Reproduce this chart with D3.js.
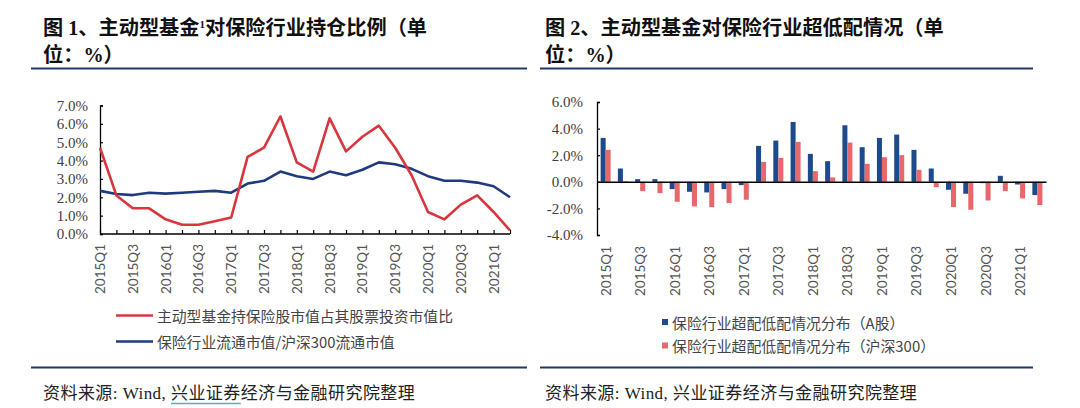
<!DOCTYPE html>
<html><head><meta charset="utf-8">
<script src="https://cdn.jsdelivr.net/npm/d3@7"></script>
<style>html,body{margin:0;padding:0;background:#fff;} svg{display:block}</style>
</head><body>
<svg id="c" width="1080" height="408"></svg>
<script>
const quarters = ["2015Q1","2015Q2","2015Q3","2015Q4","2016Q1","2016Q2","2016Q3","2016Q4",
  "2017Q1","2017Q2","2017Q3","2017Q4","2018Q1","2018Q2","2018Q3","2018Q4",
  "2019Q1","2019Q2","2019Q3","2019Q4","2020Q1","2020Q2","2020Q3","2020Q4","2021Q1","2021Q2"];
// Figure 1 series (%)
const holdingRatio = [4.7,2.1,1.4,1.4,0.8,0.5,0.5,0.7,0.9,4.2,4.7,6.4,3.9,3.4,6.3,4.5,5.3,5.9,4.7,3.2,1.2,0.8,1.6,2.1,1.2,0.2];
const marketCapRatio = [2.35,2.18,2.12,2.25,2.2,2.25,2.3,2.35,2.25,2.75,2.9,3.4,3.15,3.0,3.4,3.2,3.5,3.9,3.8,3.55,3.15,2.9,2.9,2.8,2.6,2.0];
// Figure 2 series (%)
const overweightA = [3.3,1.0,0.2,0.2,-0.55,-0.75,-0.8,-0.55,-0.25,2.7,3.1,4.5,2.1,1.55,4.25,2.6,3.3,3.55,2.4,1.0,-0.6,-0.9,-0.1,0.45,-0.2,-1.0];
const overweightHS300 = [2.4,0.05,-0.7,-0.85,-1.5,-1.85,-1.9,-1.6,-1.35,1.5,1.8,3.0,0.8,0.33,2.95,1.35,1.85,2.0,0.9,-0.4,-1.9,-2.1,-1.4,-0.7,-1.25,-1.75];
const leftYTicks = [0,1,2,3,4,5,6,7];
const rightYTicks = [-4,-2,0,2,4,6];
const xTickLabels = ["2015Q1","2015Q3","2016Q1","2016Q3","2017Q1","2017Q3","2018Q1","2018Q3","2019Q1","2019Q3","2020Q1","2020Q3","2021Q1"];
const leftLegend = ["主动型基金持保险股市值占其股票投资市值比","保险行业流通市值/沪深300流通市值"];
const rightLegend = ["保险行业超配低配情况分布（A股）","保险行业超配低配情况分布（沪深300）"];

const RED = "#d8363c", NAVY = "#1f3a7e", BAR_BLUE = "#1d4a8a", BAR_PINK = "#e8676a", RULE = "#1f3864";
const CJK = "'Liberation Serif','Noto Sans CJK SC',serif";
const CJKS = "'Noto Sans CJK SC',sans-serif";
const NUM = "'Liberation Serif',serif";
const XLAB = "Lato,'Liberation Sans',sans-serif";

const svg = d3.select("#c");
svg.append("rect").attr("width",1080).attr("height",408).attr("fill","#fff");

// ---------- Titles ----------
function title(x, num, rest1, sup) {
  const t = svg.append("text").attr("x",x).attr("y",35).attr("font-family",CJK)
    .attr("font-weight","bold").attr("font-size",20.2).attr("fill","#111");
  t.append("tspan").text("图 " + num + "、主动型基金");
  if (sup) { t.append("tspan").attr("font-size",11).attr("dy",-7).text("1");
             t.append("tspan").attr("dy",7).text(rest1); }
  else t.append("tspan").text(rest1);
  svg.append("text").attr("x",x).attr("y",62).attr("font-family",CJK)
    .attr("font-weight","bold").attr("font-size",20.2).attr("fill","#111").text("位：%）");
}
title(43, "1", "对保险行业持仓比例（单", true);
title(545, "2", "对保险行业超低配情况（单", false);

// rules
[[31,527],[540,1033]].forEach(([a,b])=>{
  svg.append("line").attr("x1",a).attr("x2",b).attr("y1",68.5).attr("y2",68.5).attr("stroke",RULE).attr("stroke-width",2);
  svg.append("line").attr("x1",a).attr("x2",b).attr("y1",367.5).attr("y2",367.5).attr("stroke",RULE).attr("stroke-width",2);
});

// footers
const footTxt = "资料来源: Wind, 兴业证券经济与金融研究院整理";
const feet = [43,545].map(x=> svg.append("text").attr("x",x).attr("y",399).attr("font-family",CJK).attr("font-size",17)
    .attr("letter-spacing",0.45).attr("fill","#222").text(footTxt));
{
  const node = feet[0].node();
  const idx = footTxt.indexOf("兴");
  const s = node.getStartPositionOfChar(idx).x;
  const e = node.getEndPositionOfChar(idx+3).x;
  svg.append("line").attr("x1",s).attr("x2",e).attr("y1",403.5).attr("y2",403.5).attr("stroke","#4fb3b8").attr("stroke-width",1.5);
}

// ---------- Left chart ----------
const xL = d3.scalePoint().domain(quarters).range([100,510]);
const yL = d3.scaleLinear().domain([0,7]).range([234,105.5]);

const gL = svg.append("g");
const yAxisL = d3.axisLeft(yL).tickValues(leftYTicks).tickSize(-3).tickPadding(12).tickFormat(d=>d.toFixed(1)+"%");
gL.append("g").attr("transform","translate(100,0)").call(yAxisL)
  .call(g=>{g.select(".domain").attr("stroke","#000").attr("stroke-width",1.3);
            g.selectAll(".tick line").attr("stroke","#000").attr("stroke-width",1.2);
            g.selectAll("text").attr("font-family",NUM).attr("font-size",15).attr("fill","#404040");});
const xAxisL = d3.axisBottom(xL).tickSize(-4).tickFormat("");
gL.append("g").attr("transform","translate(0,234)").call(xAxisL)
  .call(g=>{g.select(".domain").attr("stroke","#000").attr("stroke-width",1.5).attr("d","M100,0H510");
            g.selectAll(".tick line").attr("stroke","#000").attr("stroke-width",1.2);});
gL.selectAll(".xl").data(xTickLabels).enter().append("text")
  .attr("transform",d=>`translate(${xL(d)},244) rotate(-90)`)
  .attr("text-anchor","end").attr("dominant-baseline","central")
  .attr("font-family",XLAB).attr("font-size",13.5).attr("fill","#555").text(d=>d);

const lineL = d3.line().x((d,i)=>xL(quarters[i])).y(d=>yL(d));
gL.append("path").datum(marketCapRatio).attr("d",lineL).attr("fill","none").attr("stroke",NAVY).attr("stroke-width",2.6).attr("stroke-linejoin","round");
gL.append("path").datum(holdingRatio).attr("d",lineL).attr("fill","none").attr("stroke",RED).attr("stroke-width",2.6).attr("stroke-linejoin","round");

// left legend
[[RED,315.5],[NAVY,341.5]].forEach(([c,y],i)=>{
  svg.append("line").attr("x1",116).attr("x2",153).attr("y1",y).attr("y2",y).attr("stroke",c).attr("stroke-width",2.6);
  svg.append("text").attr("x",157).attr("y",y).attr("dominant-baseline","central").attr("font-family",CJKS)
    .attr("font-size",14.8).attr("fill","#444").text(leftLegend[i]);
});

// ---------- Right chart ----------
const xR = d3.scaleBand().domain(quarters).range([597,1046]);
const yR = d3.scaleLinear().domain([-4,6]).range([235,102]);
const gR = svg.append("g");
const bw = xR.bandwidth()*0.29;
gR.selectAll(".ba").data(overweightA).enter().append("rect")
  .attr("x",(d,i)=>xR(quarters[i])+xR.bandwidth()/2-bw).attr("width",bw)
  .attr("y",d=>yR(Math.max(0,d))).attr("height",d=>Math.abs(yR(d)-yR(0))).attr("fill",BAR_BLUE);
gR.selectAll(".bh").data(overweightHS300).enter().append("rect")
  .attr("x",(d,i)=>xR(quarters[i])+xR.bandwidth()/2).attr("width",bw)
  .attr("y",d=>yR(Math.max(0,d))).attr("height",d=>Math.abs(yR(d)-yR(0))).attr("fill",BAR_PINK);

const yAxisR = d3.axisLeft(yR).tickValues(rightYTicks).tickSize(-3).tickPadding(14).tickFormat(d=>d.toFixed(1)+"%");
gR.append("g").attr("transform","translate(597,0)").call(yAxisR)
  .call(g=>{g.select(".domain").attr("stroke","#000").attr("stroke-width",1.3);
            g.selectAll(".tick line").attr("stroke","#000").attr("stroke-width",1.2);
            g.selectAll("text").attr("font-family",NUM).attr("font-size",15).attr("fill","#404040");});
const xAxisR = d3.axisBottom(xR).tickSize(0).tickFormat("");
gR.append("g").attr("transform",`translate(0,${yR(0)})`).call(xAxisR)
  .call(g=>{g.select(".domain").attr("stroke","#000").attr("stroke-width",1.5);});
gR.selectAll(".xr").data(xTickLabels).enter().append("text")
  .attr("transform",d=>`translate(${xR(d)+xR.bandwidth()/2},246) rotate(-90)`)
  .attr("text-anchor","end").attr("dominant-baseline","central")
  .attr("font-family",XLAB).attr("font-size",13.5).attr("fill","#555").text(d=>d);

// right legend
[[BAR_BLUE,322],[BAR_PINK,345.5]].forEach(([c,y],i)=>{
  svg.append("rect").attr("x",662).attr("y",y-3).attr("width",6).attr("height",6).attr("fill",c);
  svg.append("text").attr("x",672).attr("y",y).attr("dominant-baseline","central").attr("font-family",CJKS)
    .attr("font-size",14.9).attr("fill","#444").text(rightLegend[i]);
});
</script>
</body></html>
